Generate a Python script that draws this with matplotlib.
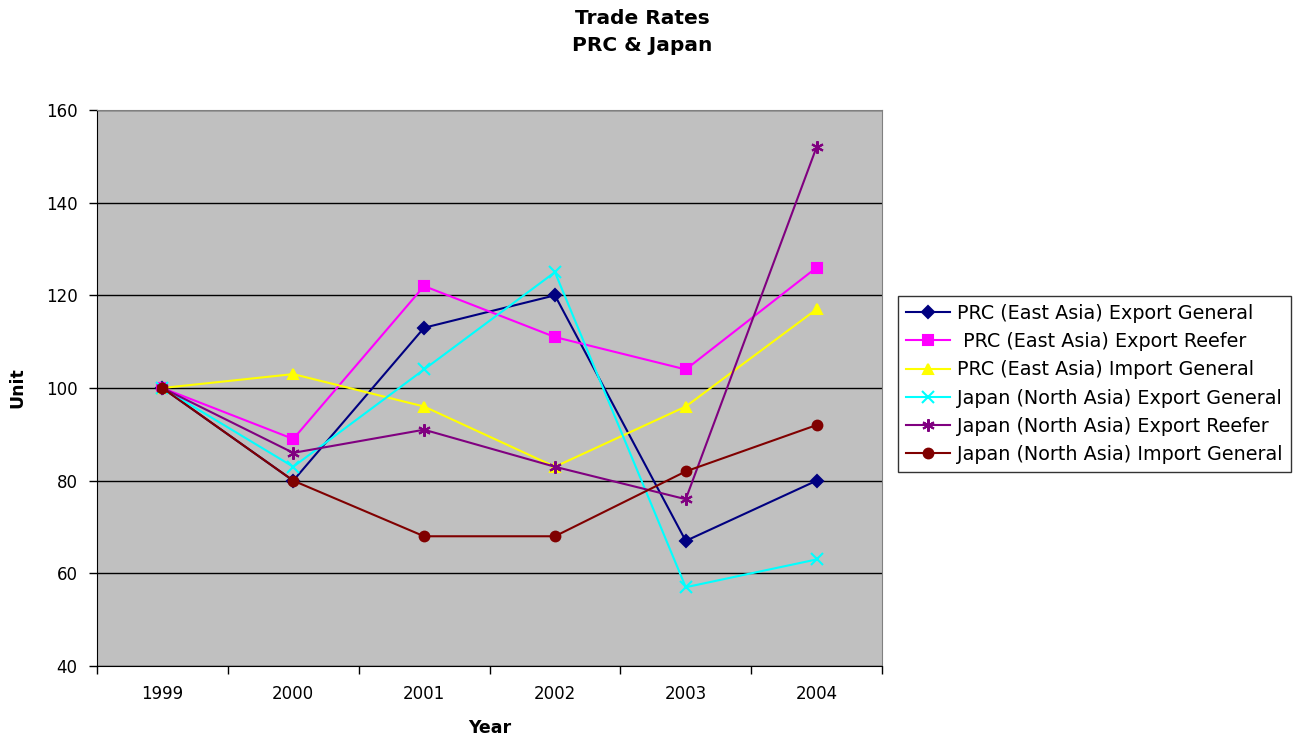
import numpy as np
import matplotlib.pyplot as plt

plt.rcParams['font.family'] = ['DejaVu Sans']

years = ['1999', '2000', '2001', '2002', '2003', '2004']
prc_exp_gen = [100, 80, 113, 120, 67, 80]
prc_exp_reefer = [100, 89, 122, 111, 104, 126]
prc_imp_gen = [100, 103, 96, 83, 96, 117]
jpn_exp_gen = [100, 83, 104, 125, 57, 63]
jpn_exp_reefer = [100, 86, 91, 83, 76, 152]
jpn_imp_gen = [100, 80, 68, 68, 82, 92]

series = [
    ('PRC (East Asia) Export General', prc_exp_gen, '#000080', 'D', 6),
    (' PRC (East Asia) Export Reefer', prc_exp_reefer, '#FF00FF', 's', 7),
    ('PRC (East Asia) Import General', prc_imp_gen, '#FFFF00', '^', 7),
    ('Japan (North Asia) Export General', jpn_exp_gen, '#00FFFF', 'x', 8),
    ('Japan (North Asia) Export Reefer', jpn_exp_reefer, '#800080', (6, 2, 0), 9),
    ('Japan (North Asia) Import General', jpn_imp_gen, '#800000', 'o', 7),
]

fig = plt.figure(figsize=(13.02, 7.4), dpi=100)
ax = fig.add_axes([97 / 1302, 1 - 666 / 740, (882 - 97) / 1302, (666 - 110) / 740])
ax.set_facecolor('#C0C0C0')

x = np.arange(len(years))
for label, vals, color, marker, ms in series:
    ax.plot(x, vals, color=color, marker=marker, markersize=ms, linewidth=1.5,
            markeredgewidth=1.5, label=label, clip_on=False)

ax.set_xlim(-0.5, len(years) - 0.5)
ax.set_ylim(40, 160)
ax.set_yticks(np.arange(40, 161, 20))
ax.yaxis.grid(True, color='black', linewidth=1)
ax.set_axisbelow(True)
ax.set_xticks(x)
ax.set_xticklabels(years)
ax.set_xticks(np.arange(-0.5, len(years), 1), minor=True)
ax.tick_params(axis='x', which='major', length=0, pad=14, labelsize=12)
ax.tick_params(axis='x', which='minor', length=6, width=1, direction='out')
ax.tick_params(axis='y', length=6, width=1, direction='out', labelsize=12, pad=8)

for s in ['top', 'right']:
    ax.spines[s].set_color('#808080')
for s in ['left', 'bottom']:
    ax.spines[s].set_color('black')

ax.set_xlabel('Year', fontsize=12.5, fontweight='bold', labelpad=11)
ax.set_ylabel('Unit', fontsize=12.5, fontweight='bold', labelpad=14)

fig.text(642 / 1302, 1 - 32 / 740, 'Trade Rates\nPRC & Japan', ha='center', va='center',
         fontsize=14.5, fontweight='bold', linespacing=1.5)

leg = ax.legend(loc='center left', bbox_to_anchor=(898 / 1302, 1 - 384 / 740),
                bbox_transform=fig.transFigure, fontsize=13.8, frameon=True, fancybox=False,
                edgecolor='black', borderpad=0.4, labelspacing=0.48, handlelength=2.3,
                handletextpad=0.4, borderaxespad=0)
leg.get_frame().set_linewidth(1)

fig.savefig('out.png', dpi=100)
